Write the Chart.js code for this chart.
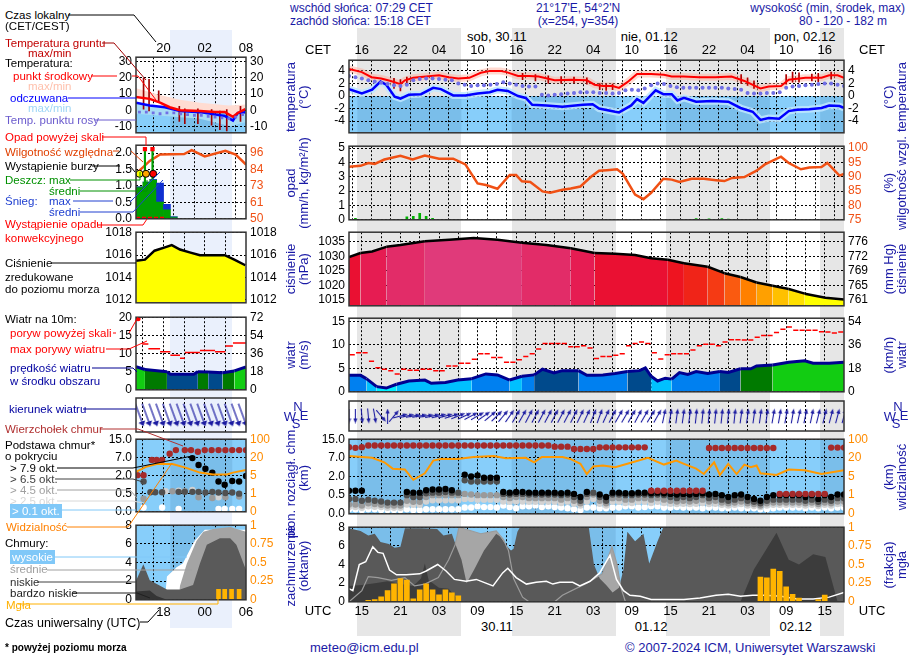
<!DOCTYPE html>
<html lang="pl">
<head>
<meta charset="utf-8">
<title>Meteogram</title>
<script src="https://cdn.jsdelivr.net/npm/chart.js@4.4.1/dist/chart.umd.min.js"></script>
<style>
  html, body { margin: 0; padding: 0; }
  body { position: relative; width: 910px; height: 660px; overflow: hidden; background: #fff;
         font-family: "Liberation Sans", Arial, sans-serif; }
  canvas { position: absolute; }
  .band { position: absolute; }
  .t { position: absolute; white-space: nowrap; font-size: 12px; line-height: 14px; height: 14px; }
  .v { position: absolute; white-space: nowrap; font-size: 13px; line-height: 14px; color: #1a1aa6;
       transform: translate(-50%, -50%) rotate(-90deg); }
  svg { position: absolute; left: 0; top: 0; }
</style>
</head>
<body>
<script>
// ---------- time axis: hours UTC counted from 29.11 00:00 ----------
const H0 = 13, H1 = 90;
const gridHours = [15,18,21,24,27,30,33,36,39,42,45,48,51,54,57,60,63,66,69,72,75,78,81,84,87];
const labelHours = [15,21,27,33,39,45,51,57,63,69,75,81,87];
const nightFrom = [14.3, 38.3, 62.3, 86.3];
const nightTo = [30.48, 54.48, 78.48, 90];
const dayNames = ['sob, 30.11', 'nie, 01.12', 'pon, 02.12'];
const dayNameHours = [36, 59.7, 83.9];
const dateNames = ['30.11', '01.12', '02.12'];
const dateHours = [36, 60, 82.5];

// ---------- temperature ----------
const tempHours = [13,15,16.5,18,19.5,21,21.7,23,25,27,28.5,30,31.7,33.5,35,36.5,37.5,39.3,41,42.5,45,47.5,50,51.2,52.5,54,55,56.3,57.8,60,62,63.2,65,67.5,70,72.5,74.5,77,78.3,80.2,81.4,84,86.5,87.7,89,90];
const tempValues = [4.3,3.8,3.0,2.8,2.4,1.9,2.5,2.9,3.1,3.3,3.0,2.8,2.9,3.7,4.0,4.0,3.8,3.2,3.2,3.1,2.5,2.6,2.5,1.8,1.6,1.6,1.3,2.2,3.5,3.5,3.4,3.1,3.1,3.0,3.0,3.1,2.4,1.2,1.5,1.6,2.6,2.9,2.9,3.3,3.3,2.9];
const feelHours = [13,15,16.6,17.9,18.8,20.1,21,22.3,24.2,26.1,27.3,29.2,31.1,33,34.9,36.1,37.7,39.3,40.5,41.5,43.7,46.2,49.4,50.9,51.9,54.4,55,56.9,57.8,58.8,60.7,61.9,63.2,64.1,65.1,67,69.5,72,73.9,75.8,77,78.3,79.9,81.4,82.7,84.6,86.5,87.7,89.3,90];
const feelValues = [1.1,0.4,1.0,2.3,1.8,-0.1,-0.4,0.2,0.3,1.3,1.1,0.1,0.1,0.4,0.6,1.0,0.8,0.0,-0.3,-1.4,-1.5,-1.7,-1.4,-1.3,-2.0,-2.5,-2.6,-1.5,-0.5,-1.1,0.9,0.3,0.3,-0.7,-0.3,-0.9,-0.8,-0.9,-1.9,-2.5,-3.8,-3.5,-3.6,-2.4,-2.2,-2.1,-1.9,-1.5,-1.6,-1.9];
// dew point, hourly from 13 UTC
const dewValues = [3.2,3.0,2.8,2.5,2.3,2.1,1.9,1.7,1.6,1.8, 2.5,2.7,2.8,2.8,2.7,2.6,2.5,2.0,1.8,1.6,
  1.7,1.7,1.8,1.9,2.2,2.0,1.8,1.6,1.5,1.5, 0.2,0.1,0.2,0.3,0.4,0.5,0.6,0.6,0.6,0.5,
  0.5,0.4,0.5,0.9,1.0,0.9,1.2,1.7,2.0,1.9, 1.6,1.4,1.3,1.3,1.3,1.3,1.3,1.3,1.3,1.2,
  1.1,1.0,0.5,0.4,0.4,0.5,0.5,0.6,1.3,1.5, 1.6,1.7,1.8,1.9,2.0,2.0,1.8,1.6];
const groundHours = [20,21,22,40,42,44,46,48,50,52,53,54,74,75,76,81,82,83,85,86,88];
const groundMin = [1.2,0.8,1.8,2.6,2.4,2.0,2.0,2.1,1.9,1.0,0.9,1.0,2.0,1.7,1.2,1.9,2.2,2.2,2.4,2.3,2.7];
const groundMax = [2.8,2.6,3.0,3.6,3.4,3.2,3.1,3.0,2.9,2.0,1.9,1.9,3.4,2.9,2.4,3.4,3.8,3.7,3.5,3.6,3.8];

// ---------- precipitation / humidity ----------
const humHours = [13,14.8,16,17,18.5,21,22.9,24.8,27,29.2,31.1,33,34.3,36.1,38,39,39.9,41.2,43.1,44.3,46.2,47.5,49,50.6,51.9,53.1,54.7,55.6,57.5,58.8,60,61.9,63.2,64.4,66.3,68.2,70.1,71.4,72.6,74.5,76.4,77.7,80.2,81.4,83.3,84.6,86.5,87.4,89.3,90];
const humValues = [93.5,93.8,94.8,94.5,96,97.3,96,97.4,96.3,96.3,94.3,87.7,87.1,85.8,90.6,90.6,88.4,88.2,84.9,84.4,85.5,85.9,86.6,89.9,92.1,92.3,92.6,91,83.8,82.2,84.4,89.3,89,88.2,89.3,89.3,88.8,88.5,89.6,89.9,92.1,94.3,97,94.8,92.6,93.2,93.4,94.8,90.4,91];
const rainHours = [14,22,23,24,25,26,50,67,69,71,72];
const rainValues = [0.1,0.2,0.25,0.45,0.25,0.1,0.03,0.08,0.06,0.08,0.05];

// ---------- pressure ----------
const presHours = [13,14.8,16.6,18.8,21,24.8,28.6,32.4,36.1,39.9,43.7,47.5,51.2,54.4,57.5,60,62.6,65.1,68.8,71.4,73.9,76.4,78.9,81.4,83.9,87.1,90];
const presValues = [1029.7,1031.1,1031.6,1033.2,1033.8,1035.1,1035.6,1036.2,1035.6,1034.6,1033.8,1032.7,1031.1,1030.8,1030.4,1029.3,1028.8,1027.6,1026.4,1024.2,1022.9,1021,1019.9,1018.8,1017.2,1015.8,1015.2];
const presMmLabels = ['761','765','769','772','776'];

// ---------- wind ----------
const windHours = [13,14.8,15.7,17.3,18.8,20.4,22.3,24.8,25.8,28,29.9,32.1,34.3,36.1,38,39.9,41.8,43.1,44.9,46.2,48.7,50,51.2,52.5,54.4,56.3,58.2,59.1,60,61,62.2,63.2,64.4,65.7,67,68.8,70.7,72,73.9,75.5,76.4,78.9,81.4,83.9,85.2,87.7,90];
const windValues = [3.5,3.5,2.8,1.1,0.8,1.6,2.3,2.5,1.8,2.0,2.5,2.8,3.8,3.6,2.5,3.3,3.6,4.8,4.0,4.5,4.5,3.5,3.5,3.6,3.9,4.3,4.5,5.1,3.3,2.3,2.9,2.7,4.1,3.7,4.3,3.9,4.3,4.1,4.9,4.9,5.5,5.7,6.3,6.6,6.1,6.1,6.3];
// max gust per hour, from 13 UTC
const gustValues = [7.9,8.3,8.3,6.5,5.1,4.8,4.5,3.8,4.8,4.6, 4.6,4.8,4.8,4.5,4.5,5.5,5.5,6.1,6.1,6.9,
  8.1,8.1,7.3,7.3,6.3,6.3,6.8,7.5,8.1,9.1, 10.3,10.3,10.3,10.3,9.6,9.6,9.8,9.3,7.1,7.5,
  7.5,7.8,8.1,9.8,10.3,10.6,10.3,8.3,7.0,7.9, 8.1,8.1,8.1,8.9,9.8,10.1,10.1,9.8,10.6,11.1,
  11.1,11.0,11.0,11.6,12.0,12.0,12.6,13.3,13.8,13.1, 13.1,13.1,13.1,12.8,12.7,12.5,12.7];
// arrow heading in degrees (clockwise from north), hourly from 13 UTC
const dirValues = [180,180,175,175,170,140,0,40,75,78,80,80,80,78,76,75,72,
  68,65,62,60,55,50,45,40, 35,30,30,28,28,28,28,28,28,28,27,26, 25,22,20,25,28,
  30,30,30,28,30,32,30, 12,10,8,8,8,6,6,6,6,6,6,6,8,8,8,8,8,10,10,10,10,12,12,12,14,14,15,15,15];

// ---------- cloud base (km), hourly from 13 UTC ----------
const baseLabels = ['0.0','0.5','2.0','7.0','15.0'];
const baseKm = [0, 0.5, 2, 7, 15];
const visLabels = ['0','1','5','20','100'];
const visKm = [0, 1, 5, 20, 100];
const cloudTop = [11.6,11.3,11.6,12.3,12.3,12.3,12.3,12.3,12.3,12.3, 12.3,12.3,12.3,12.3,12.3,12.3,12.3,12.3,12.3,12.3,
  12.3,12.3,12.3,12.3,12.3,12.3,12.3,12.3,12.3,12.3, 12.3,12.3,11.8,11.8,11.8,10.8,10.8,10.8,10.8,11.5,
  11.5,11.5,11.5,11.5,11.5,11.5,11.5,null,null,null, null,null,null,null,null,null,11.2,11.2,11.2,11.2,
  11.2,11.2,11.2,11.2,11.2,11.2,11.2,null,null,null, null,null,null,null,null,11.4,11.4,11.4];
const lowTopHours = [60,61,62,63,64,65,66,67,68,80,81,82,83,84,85,86,87];
const lowTopValues = [0.85,0.85,0.85,0.85,0.85,0.85,0.85,0.85,0.85,0.6,0.6,0.6,0.6,0.6,0.6,0.6,0.6];
const baseBlack = [0.85,0.85,0.85,null,null,null,null,null,null,0.75, 0.7,0.7,0.9,0.95,0.95,1.0,0.9,null,2.5,2.0,
  2.3,1.9,1.9,1.9,0.75,0.7,0.75,0.75,0.7,0.7, 0.7,0.7,0.7,0.65,0.7,0.6,0.45,0.75,null,0.55,
  0.45,0.7,0.7,0.65,0.65,0.7,0.7,0.65,0.7,0.65, 0.6,0.55,0.6,0.55,0.6,0.65,0.55,0.6,0.5,0.45,
  0.5,0.55,0.45,0.4,0.35,0.45,0.5,0.5,0.5,0.5, 0.5,0.45,0.5,0.4,0.5,0.45,0.55,0.55];
const baseDark = [0.4,0.4,0.35,0.38,0.35,0.33,0.3,0.3,0.3,0.5, 0.45,0.45,0.65,0.7,0.7,0.75,0.7,0.7,1.7,1.6,
  1.6,1.6,1.6,1.6,0.6,0.55,0.6,0.6,0.55,0.55, 0.55,0.55,0.55,0.5,0.55,0.45,0.35,0.6,0.7,0.45,
  0.35,0.55,0.55,0.5,0.5,0.55,0.55,0.5,0.55,0.5, 0.45,0.42,0.45,0.42,0.45,0.5,0.42,0.45,0.38,0.35,
  0.38,0.42,0.35,0.32,0.28,0.35,0.38,0.38,0.38,0.38, 0.38,0.35,0.38,0.32,0.38,0.35,0.42,0.42];
const baseGray = [0.25,0.25,0.22,0.28,0.26,0.24,0.22,0.22,0.22,0.35, 0.32,0.32,0.45,0.5,0.5,0.5,0.5,0.5,0.6,0.55,
  0.5,0.5,0.5,0.5,0.45,0.42,0.45,0.45,0.42,0.42, 0.42,0.42,0.42,0.38,0.42,0.35,0.28,0.45,0.55,0.35,
  0.28,0.42,0.42,0.38,0.38,0.42,0.42,0.38,0.42,0.38, 0.35,0.33,0.35,0.33,0.35,0.38,0.33,0.35,0.3,0.28,
  0.3,0.33,0.28,0.26,0.22,0.28,0.3,0.3,0.3,0.3, 0.3,0.28,0.3,0.26,0.3,0.28,0.33,0.33];
const baseLight = [0.18,0.18,0.16,0.2,0.19,0.18,0.16,0.16,0.16,0.25, 0.24,0.24,0.33,0.36,0.36,0.36,0.36,0.36,0.4,0.4,
  0.38,0.38,0.38,0.38,0.33,0.32,0.33,0.33,0.32,0.32, 0.32,0.32,0.32,0.29,0.32,0.27,0.22,0.33,0.4,0.27,
  0.22,0.32,0.32,0.29,0.29,0.32,0.32,0.29,0.32,0.29, 0.27,0.26,0.27,0.26,0.27,0.29,0.26,0.27,0.24,0.22,
  0.24,0.26,0.22,0.21,0.18,0.22,0.24,0.24,0.24,0.24, 0.24,0.22,0.24,0.21,0.24,0.22,0.26,0.26];
const baseWhite = [0.12,0.12,0.1,0.12,0.12,0.1,0.1,0.1,0.1,0.12, 0.1,0.1,0.12,0.12,0.12,0.12,0.12,0.12,0.17,0.17,
  0.2,0.18,0.18,0.17,0.22,0.18,0.15,0.2,0.2,0.22, 0.18,0.2,0.18,0.17,0.15,0.12,0.1,0.17,0.17,0.15,
  0.15,0.17,0.17,0.2,0.2,0.17,0.18,0.2,0.2,0.17, 0.17,0.18,0.17,0.17,0.17,0.15,0.17,0.17,0.15,0.15,
  0.17,0.15,0.15,0.15,0.12,0.12,0.15,0.17,0.17,0.17, 0.17,0.15,0.17,0.15,0.17,0.15,0.17,0.17];
const visHours = [13,16.6,18.5,19.8,21.7,23,24.8,26.1,27.3,29.9,32.4,35.5,37.4,40.5,41.8,43,46.2,47.5,49,50,51,52.5,54.4,56.3,59.5,62,63.9,65.1,67,68.2,69.8,70.7,72,73.3,74.5,75.5,76.4,77,79.5,81.4,83.9,86.5,90];
const visValues = [28,20,16.4,11.3,10.6,4.3,7.6,17.8,19,19,24,28,19.7,20,16.4,24,24,19,15.2,7,13.1,13.9,12.5,15.2,20,14.6,17.8,15.2,11.3,7,16.4,6.2,15.2,7,14.5,12.5,13.9,7.6,6.2,10.6,10.1,7,10.1];

// ---------- cloud cover (okta) and fog ----------
const lowHours = [13,14.8,16,17,17.9,19.2,20.1,21,21.7,24.2,26.7,27.7,29,29.7,30.5,31.3,32.5,34,35.9,36.5,37.5,38.2,38.6,39.2,39.6,50.3,51.1,52,53,54,55,55.7,56.3,57.5,58.8,59.7,61,61.9,90];
const lowValues = [7.9,7.6,7.1,7.3,6.4,6.2,5.8,5.9,7.9,7.9,7.8,7.1,7.3,5.9,4.5,2.0,3.5,5.5,7.3,7.0,6.0,5.5,5.7,7.5,8,8,4,2.5,1.8,1.0,1.5,3.5,7.5,6.5,7.3,4.1,6.5,8,8];
const midHours = [13,15,16,17.5,19.6,21.7,23.2,24.8,26.9,28.5,29.5,30.1,33.5,35.9,37,37.8,38.6,40,41,45,46.2,50,51.2,52.4,53.9,54.7,55.3,56,90];
const midValues = [0,1.2,2.7,2.6,2.3,2.6,1.7,1.9,2.6,4.5,6.1,8,7.3,7.6,6.7,5.5,2.5,0.5,0,0,0.7,2.0,2.5,3.0,5.9,4,1.5,0,0];
const vlowHours = [13,15,17,19,21,23,24.2,24.8,25.4,27,28.5,29.6,30,73.9,76,79.5,81.4,83,85.2,87.1,89,90];
const vlowValues = [1.7,1.8,2.0,2.2,1.9,1.7,2.5,4.1,2.3,1.5,1.4,0.5,0,0,3.5,7.4,4.5,4.0,5.1,4.8,0,0];
const highHours = [13,13.6,14.6,15.6,16.7,17.5,18.3,19.3,20.4,21.9,24,25,26.8,28.1,29.4,31.2,32.8,35.4,36.9,37.7,39,40.6,42.1,43.7,44.7,45.8,47.8,48.9,50.5,52,53.6,54.6,55.7,56.7,58.3,60,62.6,65.1,67.6,70.1,72,73.9,75.8,77.7,80.2,82.7,85.2,87.7,90];
const highValues = [1.4,1.2,4.0,4.3,5.9,5.3,5.2,3.4,2.9,2.9,3.0,3.3,4.0,3.3,2.4,2.2,2.4,1.7,3.1,3.6,2.6,1.9,2.1,2.2,1.9,2.1,2.1,1.7,2.2,3.1,5.0,2.4,1.2,0.7,0.6,0.25,0.25,0.25,0.4,0.7,0.8,0.6,0.7,0.7,0.6,0.3,0.3,0.5,1.0];
const fogHours = [16,17,18,19,20,21,22,23,24,25,26,27,28,29,30,77,78,79,80,81,82,83,86,87];
const fogValues = [0.02,0.03,0.065,0.15,0.24,0.31,0.29,0.04,0.16,0.24,0.16,0.095,0.16,0.12,0.08,0.33,0.32,0.44,0.41,0.2,0.1,0.05,0.03,0.09];

// ---------- legend mini meteogram (own 0..16 h axis) ----------
const mNightFrom = [5], mNightTo = [14];
const mTopLabels = ['20','02','08'], mBottomLabels = ['18','00','06'], mLabelHours = [4,10,16];
const mTempH = [0,2,3.5,4.9,6.4,9.3,11.5,12.9,14.1,14.8,15.9];
const mTempV = [8.2,7.1,4.8,2.0,0.2,-0.3,-0.9,-0.9,-3.8,-1.5,0.8];
const mTempMaxH = [0,3.5,6.4,9.3,13.5,16];
const mTempMaxV = [13.5,9.5,6.6,4.8,3.1,3.7];
const mFeelH = [0,2,4.2,6.4,9.3,12.9,14.1,14.8,15.9];
const mFeelV = [4.8,3.1,2.0,-0.3,-1.0,-3.3,-6.1,-1.5,-1.0];
const mFeelMinH = [0,9.3,13.7,16];
const mFeelMinV = [-2,-5,-9.6,-7];
const mDewV = [-1,-1,-1.5,-2,-1.5,-1.5,-2,-2.5,-3,-3,-3.5,-4,-4.5,-5,-4,-2.5];
const mGroundH = [1.1,1.9,3.3,6.3,7.1,9,11,12.2,13.2,15.2];
const mGroundMin = [0.8,-0.3,4.8,-6.7,-8,-8,-9,-11.7,-12.5,-6.7];
const mGroundMax = [19.6,19,12,2.5,1,1,0.5,-0.3,0.5,2.5];
const mRainV = [0.97,1.12,1.19,0.53,0.29,0.06];
const mSnowV = [0,0,0,0.56,0.15,0];
const mHumH = [0,1,2,3.5,7,8.1,10,13,14.5,16];
const mHumV = [81.6,86,90.5,95,95.3,98,93.6,97.5,95,88];
const mStormH = [0.5,1.45,2.5];
const mOverH = [1.3,2.4];
const mConvH = [0,4.2];
const mPresH = [0,1.3,2.7,4.2,5.2,6.4,7.8,9.3,12.9,14.3,15.9];
const mPresV = [1015.5,1015.6,1016.4,1016.7,1016.9,1016.5,1016.25,1016,1016,1015.6,1015.1];
const mWindH = [0,1.3,4.5,5,8.4,9,10.5,12.6,14.3,16];
const mWindV = [6.4,5.6,5.0,4.3,4.3,5.0,4.9,4.7,5.2,6.3];
const mGustFrom = [0.9,1.8,3.5,5,6.4,7.1,9.3,11.5,13,14.1];
const mGustTo = [1.8,3.5,5,6.4,7.1,9.3,11.5,13,14.1,16];
const mGustV = [12.6,11.3,10.5,9.5,8.7,10.3,10.8,10.5,12.1,12.9];
const mDirV = [160,160,160,160,160,160,160,160,160,160,160,160,160,160,160,160];
const mTopH = [0.2,1.1,2.3,3,3.8,4.9,5.8,7.1,8,9,10,11,12,13,14,15,16];
const mTopV = [2.1,2.1,6.3,6.3,6.3,8.6,10.2,10.2,10.2,9.5,10.2,10.2,10.2,10.2,10.2,10.2,10.2];
const mBlackH = [8.2,9.1,10.1,11.1,12,12.9,14,15,16];
const mBlackV = [6.8,4.9,3.85,2.75,1.5,1.24,1.55,1.5,1.96];
const mDarkH = [1.1,2.1,2.8,3.8,6.2,7.1,8.2,9.1,10.1,11.1,12,13,14,15];
const mDarkV = [1.5,0.62,0.62,0.62,0.65,0.65,0.65,0.65,0.6,0.65,0.6,0.55,0.6,0.5];
const mGrayH = [1.1,5.3,7.1,9.1,11.1,13,15];
const mGrayV = [0.36,0.7,0.7,0.4,0.38,0.4,0.42];
const mLightH = [4.3,6.2,8.2,12];
const mLightV = [0.7,0.75,0.8,0.4];
const mWhiteH = [1.1,3.8,6.2,12,12.9,14,15];
const mWhiteV = [0.12,0.12,0.08,0.08,0.08,0.08,0.08];
const mVisH = [0,1.6,3,5.3,7.3,9.3,11.2,13.2,14.1,16];
const mVisV = [8,12.5,14.5,14.5,11.3,7.4,5.8,5.8,7.4,9.5];
const mHighH = [0,4.2,4.5,5.9,6.8,8.5,10,16];
const mHighV = [0,0,2.5,3.5,3.9,6.3,7.5,7.5];
const mMidH = [0,6.2,6.4,7.4,8.8,9.8,11.2,13.7,16];
const mMidV = [0,0,1.5,3.9,6.3,7.3,7.6,7.8,7.3];
const mLowH = [0,1.07,2,3.5,4.5,6.4,8.3,9.3,10.3,12.2,13.7,14.6,16];
const mLowV = [2.05,3.8,2.1,1.5,1.1,1.1,1.6,3.9,5.9,6.6,6.6,5.9,3.2];
const mVlowH = [0,2,3,4.5,16];
const mVlowV = [0.9,1.0,0.4,0,0];
const mFogH = [12,12.9,13.9,15];
const mFogV = [0.14,0.14,0.14,0.14];

// ---------- styles ----------
Chart.defaults.font.family = '"Liberation Sans", Arial, sans-serif';
Chart.defaults.font.size = 12;
Chart.defaults.color = '#000';
Chart.defaults.animation = false;

const SKY = '#87cefa';
const SHADE = 'rgba(0,30,80,0.09)';
const MAIN = { x: 296, w: 610, axL: 53, axR: 62, xMin: H0, xMax: H1, grid: gridHours };
const MINI = { x: 95, w: 190, axL: 41, axR: 39, xMin: 0, xMax: 16, grid: [1,4,7,10,13] };

function presColor(p) {
  const stops = [1017, 1018.5, 1020, 1021.5, 1023, 1024.5, 1026, 1027.5, 1029, 1031, 1033, 1035];
  const cols = ['#ffff00','#ffe000','#ffc000','#ffa000','#ff8000','#fa5a10','#f53a14','#f02418','#ee1420','#ea1032','#e61c52','#e22c68','#e03a7a'];
  let i = 0;
  while (i < stops.length && p > stops[i]) i++;
  return cols[i];
}
function windColor(v) {
  return v < 1.5 ? '#00f0ff' : v < 3.0 ? '#00c0ff' : v < 4.15 ? '#0080f0' : v < 4.85 ? '#004a8c' : v < 5.7 ? '#007a00' : '#12cc12';
}
function toIdx(v, stops) {
  for (let i = 1; i < stops.length; i++) {
    if (v <= stops[i]) return i - 1 + (v - stops[i - 1]) / (stops[i] - stops[i - 1]);
  }
  return stops.length - 1;
}
const km = v => toIdx(v, baseKm);
const vis = v => toIdx(v, visKm);

const pts = (xs, ys, f = v => v) => xs.map((x, i) => ({ x, y: ys[i] == null ? null : f(ys[i]) }));
const hourly = (start, ys, f = v => v) => ys.map((y, i) => ({ x: start + i, y: y == null ? null : f(y) })).filter(p => p.y !== null);
const floating = (xs, lo, hi) => xs.map((x, i) => ({ x, y: [lo[i], hi[i]] }));
const steps = (from, to, ys) => ys.flatMap((y, i) => [{ x: from[i], y }, { x: to[i], y }, { x: to[i], y: null }]);

const line = (data, color, width, extra = {}) => Object.assign({ data, borderColor: color, borderWidth: width, pointRadius: 0, fill: false, tension: 0 }, extra);
const dots = (data, color, r, extra = {}) => Object.assign({ data, showLine: false, pointRadius: r, pointBackgroundColor: color, pointBorderColor: color, pointBorderWidth: 0 }, extra);
const bars = (data, color, thick, extra = {}) => Object.assign({ type: 'bar', data, backgroundColor: color, barThickness: thick, borderWidth: 0, grouped: false }, extra);

function arrowImg(len, w, color, lw) {
  const c = document.createElement('canvas');
  c.width = w; c.height = len;
  const g = c.getContext('2d');
  g.strokeStyle = color; g.fillStyle = color; g.lineWidth = lw;
  g.beginPath(); g.moveTo(w / 2, len); g.lineTo(w / 2, 4); g.stroke();
  g.beginPath(); g.moveTo(w / 2, 0); g.lineTo(0.5, 5); g.lineTo(w - 0.5, 5); g.closePath(); g.fill();
  return c;
}

Chart.register({
  id: 'panel',
  beforeDraw(chart, args, o) {
    if (!o.sky) return;
    const { ctx, chartArea: a, scales } = chart;
    const top = o.skyBelow !== undefined ? scales.y.getPixelForValue(o.skyBelow) : a.top;
    const from = o.night === 'mini' ? mNightFrom : nightFrom;
    const to = o.night === 'mini' ? mNightTo : nightTo;
    ctx.save();
    ctx.fillStyle = o.sky;
    ctx.fillRect(a.left, top, a.right - a.left, a.bottom - top);
    ctx.fillStyle = SHADE;
    from.forEach((s, i) => {
      const x0 = Math.max(a.left, scales.x.getPixelForValue(s));
      const x1 = Math.min(a.right, scales.x.getPixelForValue(to[i]));
      if (x1 > x0) ctx.fillRect(x0, top, x1 - x0, a.bottom - top);
    });
    ctx.restore();
  },
  afterDraw(chart) {
    const { ctx, chartArea: a } = chart;
    ctx.save();
    ctx.strokeStyle = '#333';
    ctx.lineWidth = 1.5;
    ctx.strokeRect(a.left, a.top, a.right - a.left, a.bottom - a.top);
    ctx.restore();
  }
});

function makeChart(o) {
  const pad = 9;
  const c = document.createElement('canvas');
  c.width = o.w;
  c.height = o.box[1] - o.box[0] + 2 * pad;
  c.style.left = o.x + 'px';
  c.style.top = (o.box[0] - pad) + 'px';
  document.body.appendChild(c);
  const z = o.gridTop ? 1 : 0;
  const yAxis = (pos, s) => ({
    type: 'linear', position: pos, min: s.min, max: s.max, z,
    afterBuildTicks: sc => { sc.ticks = (s.ticks || []).map(v => ({ value: v })); },
    afterFit: sc => { sc.width = pos === 'left' ? o.axL : o.axR; },
    grid: { display: pos === 'left' && !!s.ticks, color: '#000', drawTicks: false },
    border: { display: false, dash: [2, 2] },
    ticks: { display: !!s.ticks, autoSkip: false, padding: 4, color: s.color || '#000',
             callback: v => (s.labels ? s.labels[s.ticks.indexOf(v)] : v) }
  });
  return new Chart(c, {
    type: 'line',
    data: { datasets: o.datasets },
    options: {
      responsive: false, animation: false, devicePixelRatio: 1,
      layout: { padding: { top: pad, bottom: pad, left: 0, right: 0 } },
      scales: {
        x: { type: 'linear', min: o.xMin, max: o.xMax, offset: false, z,
             afterBuildTicks: sc => { sc.ticks = o.grid.map(v => ({ value: v })); },
             afterFit: sc => { sc.height = 0; },
             grid: { color: '#000', drawTicks: false },
             border: { display: false, dash: [2, 2] },
             ticks: { display: false } },
        y: yAxis('left', o.y),
        y2: yAxis('right', o.y2 || o.y)
      },
      plugins: { legend: { display: false }, tooltip: { enabled: false }, panel: o.panel || {} }
    }
  });
}

// ---------- page helpers ----------
const hx = h => MAIN.x + MAIN.axL + (h - H0) * (MAIN.w - MAIN.axL - MAIN.axR) / (H1 - H0);
const mx = h => MINI.x + MINI.axL + h * (MINI.w - MINI.axL - MINI.axR) / 16;
function box(x, y, w, h, color) {
  const d = document.createElement('div');
  d.className = 'band';
  d.style.cssText = `left:${x}px;top:${y}px;width:${w}px;height:${h}px;background:${color}`;
  document.body.appendChild(d);
}
function txt(s, x, y, color = '#000', o = {}) {
  const d = document.createElement('div');
  d.className = 't';
  d.textContent = s;
  d.style.left = x + 'px';
  d.style.top = (y - 7) + 'px';
  d.style.color = color;
  if (o.fs) d.style.fontSize = o.fs + 'px';
  if (o.bg) { d.style.background = o.bg; d.style.padding = '0 2px'; }
  if (o.b) d.style.fontWeight = 'bold';
  if (o.a === 'c') d.style.transform = 'translateX(-50%)';
  if (o.a === 'r') d.style.transform = 'translateX(-100%)';
  document.body.appendChild(d);
}
function vtxt(s, x, y) {
  const d = document.createElement('div');
  d.className = 'v';
  d.textContent = s;
  d.style.left = x + 'px';
  d.style.top = y + 'px';
  document.body.appendChild(d);
}

// background bands (night in main, highlighted period in legend)
nightFrom.forEach((s, i) => box(hx(s), 28, hx(nightTo[i]) - hx(s), 608, '#e6e6e6'));
mNightFrom.forEach((s, i) => box(mx(s), 30, mx(mNightTo[i]) - mx(s), 598, '#eaf0fc'));

// ================= main panels =================
makeChart(Object.assign({}, MAIN, {
  box: [58, 135],
  y: { min: -5.85, max: 5.7, ticks: [-4, -2, 0, 2, 4] },
  panel: { sky: SKY, skyBelow: 0, night: 'main' },
  datasets: [
    dots(hourly(13, dewValues), '#7070e6', 2, { order: 1 }),
    line(pts(tempHours, tempValues), '#ff0000', 2, { order: 2 }),
    line(pts(feelHours, feelValues), '#0000ff', 2.5, { order: 3 }),
    bars(floating(groundHours, groundMin, groundMax), '#b00000', 1, { order: 4 }),
    line(pts(tempHours, tempValues), 'rgba(255,170,150,0.45)', 7, { order: 5 }),
    line(pts(feelHours, feelValues), 'rgba(190,230,255,0.85)', 7, { order: 6 })
  ]
}));

makeChart(Object.assign({}, MAIN, {
  box: [144, 222],
  y: { min: 0, max: 5.13, ticks: [0, 1, 2, 3, 4, 5] },
  y2: { min: 75, max: 100.65, ticks: [75, 80, 85, 90, 95, 100], color: '#f05014' },
  datasets: [
    line(pts(humHours, humValues), '#f05014', 2.5, { yAxisID: 'y2', order: 1 }),
    bars(pts(rainHours, rainValues), '#00b000', 2, { order: 2 })
  ]
}));

makeChart(Object.assign({}, MAIN, {
  box: [230, 308], gridTop: true,
  y: { min: 1013.05, max: 1038.2, ticks: [1015, 1020, 1025, 1030, 1035] },
  y2: { min: 1013.05, max: 1038.2, ticks: [1015, 1020, 1025, 1030, 1035], labels: presMmLabels },
  datasets: [
    line(pts(presHours, presValues), '#000', 2.5, { fill: 'start', backgroundColor: presColor(1030),
      segment: { backgroundColor: c => presColor((c.p0.parsed.y + c.p1.parsed.y) / 2) } })
  ]
}));

makeChart(Object.assign({}, MAIN, {
  box: [316, 394], gridTop: true,
  y: { min: 0, max: 15.66, ticks: [0, 5, 10, 15] },
  y2: { min: 0, max: 15.66, ticks: [0, 5, 10, 15], labels: ['0', '18', '36', '54'] },
  datasets: [
    line(steps(gustValues.map((g, i) => H0 + i + 0.1), gustValues.map((g, i) => H0 + i + 0.9), gustValues), '#ff0000', 1.5, { order: 1, spanGaps: false }),
    line(pts(windHours, windValues), '#000090', 3, { order: 2, fill: 'origin', backgroundColor: '#0080f0',
      segment: { backgroundColor: c => windColor((c.p0.parsed.y + c.p1.parsed.y) / 2) } })
  ]
}));

const arrowMain = arrowImg(15, 5, '#1a1aa0', 1.1);
makeChart(Object.assign({}, MAIN, {
  box: [401, 431],
  y: { min: -1, max: 1 },
  datasets: [
    dots(dirValues.map((d, i) => ({ x: H0 + i, y: 0 })), '#1a1aa0', 5, { pointStyle: arrowMain, rotation: dirValues })
  ]
}));

makeChart(Object.assign({}, MAIN, {
  box: [437, 516],
  y: { min: 0, max: 4, ticks: [0, 1, 2, 3, 4], labels: baseLabels },
  y2: { min: 0, max: 4, ticks: [0, 1, 2, 3, 4], labels: visLabels, color: '#ff8c00' },
  panel: { sky: SKY, night: 'main' },
  datasets: [
    line(pts(visHours, visValues, vis), '#ff9900', 2, { yAxisID: 'y2', order: 1 }),
    dots(hourly(13, cloudTop, km), '#a52a2a', 3.2, { order: 2 }),
    dots(pts(lowTopHours, lowTopValues, km), '#a52a2a', 3.2, { order: 2 }),
    dots(hourly(13, baseBlack, km), '#000000', 3.2, { order: 3 }),
    dots(hourly(13, baseDark, km), '#505050', 3.2, { order: 4 }),
    dots(hourly(13, baseGray, km), '#9a9a9a', 3.2, { order: 5 }),
    dots(hourly(13, baseLight, km), '#d2d2d2', 3.2, { order: 6 }),
    dots(hourly(13, baseWhite, km), '#ffffff', 3.2, { order: 7 })
  ]
}));

makeChart(Object.assign({}, MAIN, {
  box: [525, 604], gridTop: true,
  y: { min: 0, max: 8, ticks: [0, 2, 4, 6, 8] },
  y2: { min: 0, max: 1, ticks: [0, 0.25, 0.5, 0.75, 1], labels: ['0', '0.25', '0.5', '0.75', '1'], color: '#ff8c00' },
  panel: { sky: SKY, night: 'main' },
  datasets: [
    bars(pts(fogHours, fogValues), '#ffb400', 5, { yAxisID: 'y2', order: 1 }),
    line(pts(highHours, highValues), '#ffffff', 1.5, { order: 2 }),
    line(pts(midHours, midValues), '#9c9c9c', 1.2, { order: 3 }),
    line(pts(vlowHours, vlowValues), '#3c3c3c', 0, { fill: 'origin', backgroundColor: '#3c3c3c', order: 4 }),
    line(pts(lowHours, lowValues), '#595959', 0, { fill: 'origin', backgroundColor: '#595959', order: 5 }),
    line(pts(midHours, midValues), '#a6a6a6', 0, { fill: 'origin', backgroundColor: '#a6a6a6', order: 6 })
  ]
}));

// ================= legend mini panels =================
makeChart(Object.assign({}, MINI, {
  box: [55, 135],
  y: { min: -13.6, max: 32.5, ticks: [-10, 0, 10, 20, 30] },
  panel: { sky: SKY, skyBelow: 0, night: 'mini' },
  datasets: [
    dots(hourly(0.5, mDewV), '#7070e6', 2, { order: 1, pointStyle: 'rect' }),
    line(pts(mTempH, mTempV), '#ff0000', 2.5, { order: 2 }),
    line(pts(mFeelH, mFeelV), '#0000ff', 2.5, { order: 3 }),
    bars(floating(mGroundH, mGroundMin, mGroundMax), '#a00000', 1, { order: 4 }),
    line(pts(mTempMaxH, mTempMaxV), 'rgba(0,0,0,0)', 0, { fill: 1, backgroundColor: '#ffdcd2', order: 6 }),
    line(pts(mFeelMinH, mFeelMinV), 'rgba(0,0,0,0)', 0, { fill: 2, backgroundColor: '#a8dcf5', order: 7 })
  ]
}));

makeChart(Object.assign({}, MINI, {
  box: [143, 221],
  y: { min: 0, max: 2.24, ticks: [0, 0.5, 1, 1.5, 2], labels: ['0.0', '0.5', '1.0', '1.5', '2.0'] },
  y2: { min: 50, max: 101.5, ticks: [50, 61.5, 73, 84.5, 96], labels: ['50', '61', '73', '84', '96'], color: '#f05014' },
  datasets: [
    dots(mStormH.map(x => ({ x, y: 1.37 })), ['#ffff00', '#ffa500', '#ff0000'], 3.5, { pointBorderColor: '#000', pointBorderWidth: 1, order: 1 }),
    dots(mOverH.map(x => ({ x, y: 2.12 })), '#ff0000', 3, { pointStyle: 'rect', order: 1 }),
    bars(mOverH.map(x => ({ x, y: [1.1, 2.12] })), '#00a000', 1.5, { order: 2 }),
    line(pts(mHumH, mHumV), '#f05014', 2.5, { yAxisID: 'y2', order: 3 }),
    line(mConvH.map(x => ({ x, y: 0.03 })), '#ff0000', 2, { borderDash: [4, 2], order: 4 }),
    bars(mRainV.map((r, i) => ({ x: 0.5 + i, y: [r, r + mSnowV[i]] })), '#1030d0', 7, { order: 5 }),
    bars(hourly(0.5, mRainV), '#00a000', 7, { order: 6 })
  ]
}));

makeChart(Object.assign({}, MINI, {
  box: [230, 305], gridTop: true,
  y: { min: 1011.75, max: 1018.05, ticks: [1012, 1014, 1016, 1018] },
  datasets: [
    line(pts(mPresH, mPresV), '#000', 2.5, { fill: 'start', backgroundColor: '#ffff00',
      segment: { backgroundColor: c => presColor((c.p0.parsed.y + c.p1.parsed.y) / 2) } })
  ]
}));

makeChart(Object.assign({}, MINI, {
  box: [315, 392], gridTop: true,
  y: { min: 0, max: 20, ticks: [0, 5, 10, 15, 20] },
  y2: { min: 0, max: 20, ticks: [0, 5, 10, 15, 20], labels: ['0', '18', '36', '54', '72'] },
  datasets: [
    dots([{ x: 0.3, y: 19.6 }], '#ff0000', 2.5, { order: 0 }),
    line(steps(mGustFrom, mGustTo, mGustV), '#ff0000', 1.5, { order: 1, spanGaps: false }),
    line(pts(mWindH, mWindV), '#000090', 3, { order: 2, fill: 'origin', backgroundColor: '#007a00',
      segment: { backgroundColor: c => windColor((c.p0.parsed.y + c.p1.parsed.y) / 2) } })
  ]
}));

const arrowMini = arrowImg(24, 8, '#1a1aa0', 1.2);
makeChart(Object.assign({}, MINI, {
  box: [398, 432],
  y: { min: -1, max: 1 },
  datasets: [
    dots(mDirV.map((d, i) => ({ x: 0.5 + i, y: 0 })), '#1a1aa0', 5, { pointStyle: arrowMini, rotation: mDirV })
  ]
}));

makeChart(Object.assign({}, MINI, {
  box: [437, 514],
  y: { min: 0, max: 4, ticks: [0, 1, 2, 3, 4], labels: baseLabels },
  y2: { min: 0, max: 4, ticks: [0, 1, 2, 3, 4], labels: visLabels, color: '#ff8c00' },
  panel: { sky: SKY, night: 'mini' },
  datasets: [
    line(pts(mVisH, mVisV, vis), '#ff9900', 2, { yAxisID: 'y2', order: 1 }),
    dots(pts(mTopH, mTopV, km), '#a52a2a', 3.2, { order: 2 }),
    dots(pts(mBlackH, mBlackV, km), '#000000', 3.2, { order: 3 }),
    dots(pts(mDarkH, mDarkV, km), '#505050', 3.2, { order: 4 }),
    dots(pts(mGrayH, mGrayV, km), '#9a9a9a', 3.2, { order: 5 }),
    dots(pts(mLightH, mLightV, km), '#d2d2d2', 3.2, { order: 6 }),
    dots(pts(mWhiteH, mWhiteV, km), '#ffffff', 3.2, { order: 7 })
  ]
}));

makeChart(Object.assign({}, MINI, {
  box: [523, 602], gridTop: true,
  y: { min: 0, max: 8, ticks: [0, 2, 4, 6, 8] },
  y2: { min: 0, max: 1, ticks: [0, 0.25, 0.5, 0.75, 1], labels: ['0', '0.25', '0.5', '0.75', '1'], color: '#ff8c00' },
  panel: { sky: SKY, night: 'mini' },
  datasets: [
    bars(pts(mFogH, mFogV), '#ffb400', 4, { yAxisID: 'y2', order: 1 }),
    line(pts(mVlowH, mVlowV), '#353535', 0, { fill: 'origin', backgroundColor: '#353535', order: 3 }),
    line(pts(mLowH, mLowV), '#5a5a5a', 0, { fill: 'origin', backgroundColor: '#5a5a5a', order: 4 }),
    line(pts(mMidH, mMidV), '#a4a4a4', 0, { fill: 'origin', backgroundColor: '#a4a4a4', order: 5 }),
    line(pts(mHighH, mHighV), '#ffffff', 0, { fill: 'origin', backgroundColor: '#ffffff', order: 6 })
  ]
}));

// ================= texts =================
const NAVY = '#1a1aa6';
txt('wschód słońca: 07:29 CET', 290, 8, NAVY);
txt('zachód słońca: 15:18 CET', 290, 21, NAVY);
txt("21°17'E, 54°2'N", 578, 8, NAVY, { a: 'c' });
txt('(x=254,  y=354)', 578, 21, NAVY, { a: 'c' });
txt('wysokość (min, środek, max)', 905, 8, NAVY, { a: 'r' });
txt('80 - 120 - 182 m', 843, 21, NAVY, { a: 'c' });

dayNames.forEach((s, i) => txt(s, hx(dayNameHours[i]), 37, '#000', { a: 'c', fs: 13 }));
labelHours.forEach(h => txt(String((h + 1) % 24).padStart(2, '0'), hx(h), 50, '#000', { a: 'c', fs: 13 }));
labelHours.forEach(h => txt(String(h % 24).padStart(2, '0'), hx(h), 611, '#000', { a: 'c', fs: 13 }));
dateNames.forEach((s, i) => txt(s, hx(dateHours[i]), 627, '#000', { a: 'c', fs: 13 }));
txt('CET', 318, 50, '#000', { a: 'c', fs: 13 });
txt('CET', 872, 50, '#000', { a: 'c', fs: 13 });
txt('UTC', 318, 611, '#000', { a: 'c', fs: 13 });
txt('UTC', 872, 611, '#000', { a: 'c', fs: 13 });
mLabelHours.forEach((h, i) => {
  txt(mTopLabels[i], mx(h), 48, '#000', { a: 'c', fs: 13 });
  txt(mBottomLabels[i], mx(h), 612, '#000', { a: 'c', fs: 13 });
});
txt('meteo@icm.edu.pl', 310, 648, NAVY, { fs: 13 });
txt('© 2007-2024 ICM, Uniwersytet Warszawski', 625, 648, NAVY, { fs: 13 });

// rotated axis titles
[['temperatura', 291, 97], ['(°C)', 304, 97], ['(°C)', 889, 97], ['temperatura', 902, 97],
 ['opad', 291, 183], ['(mm/h, kg/m²/h)', 304, 183], ['(%)', 889, 183], ['wilgotność wzgl.', 902, 183],
 ['ciśnienie', 291, 269], ['(hPa)', 304, 269], ['(mm Hg)', 889, 269], ['ciśnienie', 902, 269],
 ['wiatr', 291, 355], ['(m/s)', 304, 355], ['(km/h)', 889, 355], ['wiatr', 902, 355],
 ['pion. rozciągł. chm.', 291, 482], ['(km)', 304, 478], ['(km)', 889, 477], ['widzialność', 902, 477],
 ['zachmurzenie', 291, 566], ['(oktanty)', 304, 566], ['(frakcja)', 889, 565], ['mgła', 902, 565]
].forEach(([s, x, y]) => vtxt(s, x, y));

// compass roses next to the wind direction strip
[298, 898].forEach(cx => {
  txt('N', cx, 407, NAVY, { a: 'c', fs: 13 });
  txt('W', cx - 8, 417, NAVY, { a: 'c', fs: 13 });
  txt('E', cx + 6, 416, NAVY, { a: 'c', fs: 13 });
  txt('S', cx - 2, 424, NAVY, { a: 'c', fs: 13 });
});

// legend descriptions
const LB = '#80c8f8';
const LF = 11.5;
[['Czas lokalny', 5, 15, '#000'], ['(CET/CEST)', 5, 26, '#000'],
 ['Temperatura gruntu', 5, 43, '#c00000'], ['max/min', 28, 53, '#c00000'],
 ['Temperatura:', 5, 63, '#000'], ['punkt środkowy', 13, 76, '#ff0000'],
 ['max/min', 28, 86, '#ffc0ac'], ['odczuwana', 10, 98, '#0000ff'],
 ['max/min', 28, 108, '#9ed6f6'], ['Temp. punktu rosy', 5, 120, '#6a5acd'],
 ['Opad powyżej skali', 5, 137, '#ff0000'], ['Wilgotność względna', 5, 152, '#e04000'],
 ['Wystąpienie burzy', 5, 166, '#000'], ['Deszcz: max', 5, 180, '#009000'],
 ['średni', 49, 191, '#009000'], ['Śnieg:', 5, 201, '#2040d0'], ['max', 49, 201, '#2040d0'],
 ['średni', 49, 212, '#2040d0'], ['Wystąpienie opadu', 5, 224, '#ff0000'],
 ['konwekcyjnego', 5, 238, '#ff0000'], ['Ciśnienie', 5, 263, '#000'],
 ['zredukowane', 5, 277, '#000'], ['do poziomu morza', 5, 289, '#000'],
 ['Wiatr na 10m:', 5, 319, '#000'], ['poryw powyżej skali', 10, 333, '#ff0000'],
 ['max porywy wiatru', 10, 349, '#ff0000'], ['prędkość wiatru', 10, 368, '#0000a0'],
 ['w środku obszaru', 10, 381, '#0000a0'], ['kierunek wiatru', 9, 409, '#0000a0'],
 ['Wierzchołek chmur', 5, 429, '#b03030'], ['Podstawa chmur*', 5, 445, '#000'],
 ['o pokryciu', 5, 456, '#000'], ['> 7.9 okt.', 10, 468, '#000'],
 ['> 6.5 okt.', 10, 479, '#404040'], ['> 4.5 okt.', 10, 490, '#a0a0a0'],
 ['> 2.5 okt.', 10, 501, '#d8d8d8'], ['> 0.1 okt.', 10, 511, '#ffffff', { bg: LB }],
 ['Widzialność', 6, 527, '#ff8000'], ['Chmury:', 5, 543, '#000'],
 ['wysokie', 10, 557, '#ffffff', { bg: LB }], ['średnie', 10, 569, '#a0a0a0'],
 ['niskie', 10, 582, '#303030'], ['bardzo niskie', 10, 593, '#202020'],
 ['Mgła', 6, 605, '#ffb000'], ['Czas uniwersalny (UTC)', 5, 623, '#000', { fs: 12.5 }],
 ['* powyżej poziomu morza', 5, 648, '#000', { fs: 10, b: true }]
].forEach(([s, x, y, c, o]) => txt(s, x, y, c, Object.assign({ fs: LF }, o || {})));

// leader lines from legend descriptions to the mini panels
const leaders = [
  ['#000', [[68,15],[134,15],[156,42]]],
  ['#a00000', [[102,43],[114,43],[146,80]]],
  ['#ff0000', [[91,76],[117,76]]], ['#ff0000', [[132,76],[138,76],[156,100]]],
  ['#0000ff', [[68,98],[136,98]]],
  ['#6a5acd', [[95,120],[136,120]]],
  ['#ff0000', [[102,137],[146,137],[146,146]]],
  ['#e04000', [[113,151],[119,151]]], ['#e04000', [[131,151],[143,162]]],
  ['#000', [[92,166],[120,166]]], ['#000', [[130,166],[135,172]]],
  ['#009000', [[70,180],[140,180],[140,172]]],
  ['#009000', [[80,191],[147,191],[147,180]]],
  ['#2040d0', [[73,201],[113,201]]], ['#2040d0', [[130,202],[160,172]]],
  ['#2040d0', [[80,212],[133,212],[163,180]]],
  ['#ff0000', [[97,225],[143,225],[147,219]]],
  ['#000', [[51,263],[136,263]]],
  ['#ff0000', [[113,333],[116,333]]], ['#ff0000', [[129,333],[138,317]]],
  ['#ff0000', [[106,349],[129,349],[147,341]]],
  ['#000090', [[92,368],[133,368],[137,372]]],
  ['#000090', [[83,409],[136,409]]],
  ['#b03030', [[100,429],[138,429],[183,446]]],
  ['#000', [[57,468],[133,468],[192,456]]],
  ['#404040', [[55,479],[133,479],[143,482]]],
  ['#a0a0a0', [[57,490],[130,490],[137,498]]],
  ['#d8d8d8', [[57,501],[133,501],[143,503]]],
  ['#80c8f8', [[57,510],[136,510]]],
  ['#ff8000', [[67,527],[128,527],[172,463]]],
  ['#80c8f8', [[53,557],[187,557]]],
  ['#a0a0a0', [[47,570],[192,570]]],
  ['#404040', [[37,582],[136,582]]],
  ['#202020', [[72,593],[137,593],[150,598]]],
  ['#ffb000', [[18,604],[218,604],[218,599]]],
  ['#000', [[140,622],[148,622],[159,610]]]
];
const NS = 'http://www.w3.org/2000/svg';
const svg = document.createElementNS(NS, 'svg');
svg.setAttribute('width', 910);
svg.setAttribute('height', 660);
leaders.forEach(([c, p]) => {
  const pl = document.createElementNS(NS, 'polyline');
  pl.setAttribute('points', p.map(q => q.join(',')).join(' '));
  pl.setAttribute('stroke', c);
  pl.setAttribute('stroke-width', 1);
  pl.setAttribute('fill', 'none');
  svg.appendChild(pl);
});
document.body.appendChild(svg);
</script>
</body>
</html>
